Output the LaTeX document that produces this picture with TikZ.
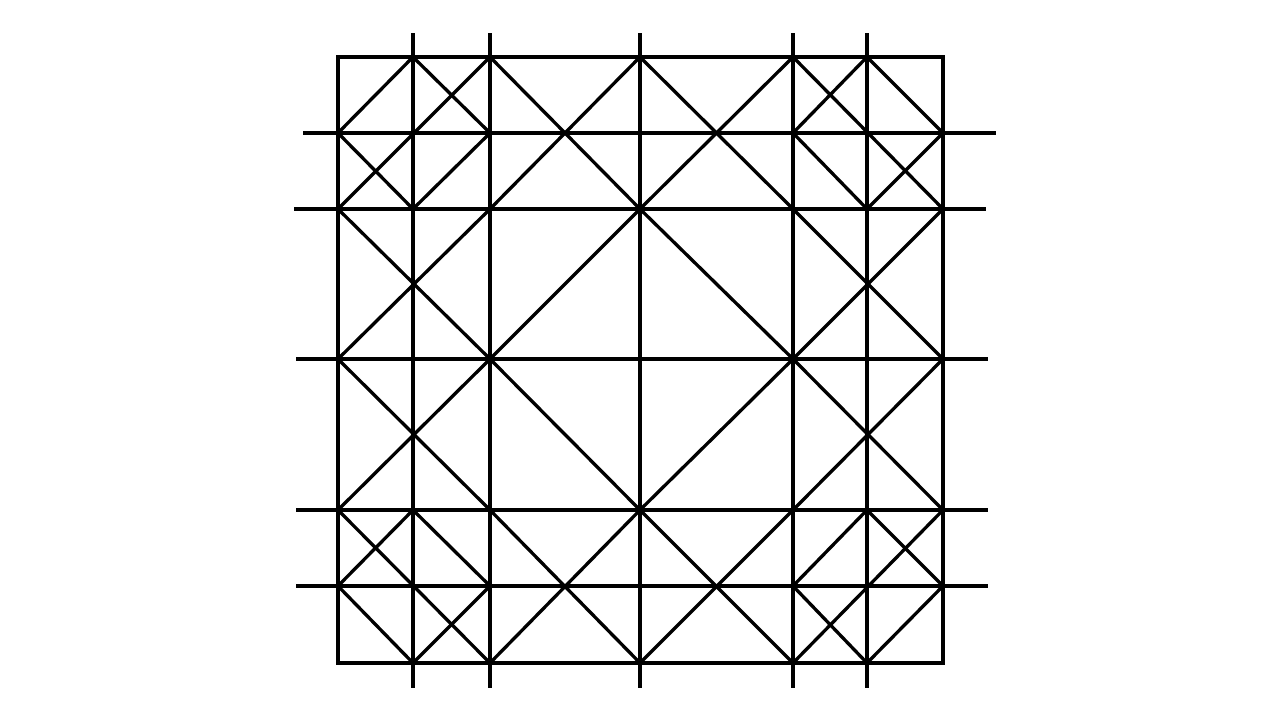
\documentclass[tikz,border=0pt]{standalone}
\begin{document}
\begin{tikzpicture}[x=1pt,y=-1pt,
  ln/.style={line width=3.3pt, draw=black, line cap=butt, line join=miter}]
\useasboundingbox (0,0) rectangle (1280,720);
\fill[white] (0,0) rectangle (1280,720);
% grid points: column index / x, row index / y
\foreach \i/\x in {0/338,1/413,2/490,4/640,6/793,7/867,8/943}{
  \foreach \j/\y in {0/57,1/133,2/209,4/359,6/510,7/586,8/663}{
    \coordinate (p\i-\j) at (\x,\y);
  }
}
% outer square
\draw[ln] (p0-0) rectangle (p8-8);
% vertical lines
\foreach \i/\x in {1/413,2/490,4/640,6/793,7/867}{
  \coordinate (vt\i) at (\x,33);
  \coordinate (vb\i) at (\x,688);
  \draw[ln] (vt\i) -- (vb\i);
}
% horizontal lines
\foreach \j/\y/\a/\b in {1/133/303/996,2/209/294/986,4/359/296/988,6/510/296/988,7/586/296/988}{
  \coordinate (hl\j) at (\a,\y);
  \coordinate (hr\j) at (\b,\y);
  \draw[ln] (hl\j) -- (hr\j);
}
% diagonals going down-right
\draw[ln] (p1-0) -- (p2-1);
\draw[ln] (p0-1) -- (p1-2);
\draw[ln] (p2-0) -- (p4-2) -- (p6-4) -- (p8-6);
\draw[ln] (p4-0) -- (p6-2) -- (p8-4);
\draw[ln] (p6-0) -- (p8-2);
\draw[ln] (p0-2) -- (p2-4) -- (p4-6) -- (p6-8);
\draw[ln] (p0-4) -- (p2-6) -- (p4-8);
\draw[ln] (p0-6) -- (p2-8);
\draw[ln] (p7-0) -- (p8-1);
\draw[ln] (p6-1) -- (p7-2);
\draw[ln] (p1-6) -- (p2-7);
\draw[ln] (p0-7) -- (p1-8);
\draw[ln] (p7-6) -- (p8-7);
\draw[ln] (p6-7) -- (p7-8);
% diagonals going down-left
\draw[ln] (p1-0) -- (p0-1);
\draw[ln] (p2-0) -- (p0-2);
\draw[ln] (p2-1) -- (p1-2);
\draw[ln] (p4-0) -- (p2-2) -- (p0-4);
\draw[ln] (p6-0) -- (p4-2) -- (p2-4) -- (p0-6);
\draw[ln] (p7-0) -- (p6-1);
\draw[ln] (p8-1) -- (p7-2);
\draw[ln] (p8-2) -- (p6-4) -- (p4-6) -- (p2-8);
\draw[ln] (p8-4) -- (p6-6) -- (p4-8);
\draw[ln] (p8-6) -- (p6-8);
\draw[ln] (p1-6) -- (p0-7);
\draw[ln] (p2-7) -- (p1-8);
\draw[ln] (p7-6) -- (p6-7);
\draw[ln] (p8-7) -- (p7-8);
\end{tikzpicture}
\end{document}
